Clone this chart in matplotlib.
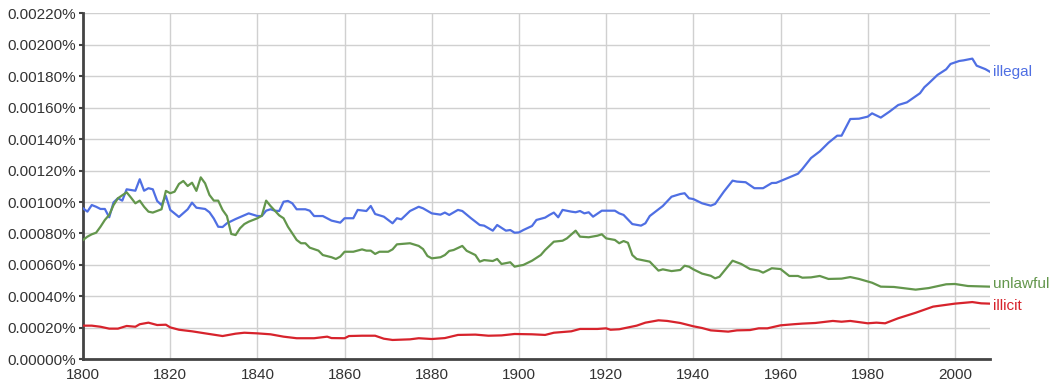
import matplotlib
matplotlib.use("Agg")
import matplotlib.pyplot as plt
from matplotlib.ticker import FuncFormatter, MultipleLocator

plt.rcParams['font.family'] = ['Liberation Sans', 'DejaVu Sans']

# illegal (blue)
illegal_years = [1800, 1801, 1802, 1803, 1804, 1805, 1806, 1807, 1808, 1809,
                 1810, 1812, 1813, 1814, 1815, 1816, 1817, 1818, 1819, 1820,
                 1822, 1824, 1825, 1826, 1828, 1829, 1830, 1831, 1832, 1833,
                 1835, 1838, 1840, 1841, 1842, 1843, 1844, 1845, 1846, 1847,
                 1848, 1849, 1851, 1852, 1853, 1855, 1857, 1859, 1860, 1862,
                 1863, 1865, 1866, 1867, 1869, 1871, 1872, 1873, 1875, 1877,
                 1878, 1880, 1882, 1883, 1884, 1886, 1887, 1889, 1891, 1892,
                 1894, 1895, 1897, 1898, 1899, 1900, 1901, 1903, 1904, 1906,
                 1907, 1908, 1909, 1910, 1912, 1913, 1914, 1915, 1916, 1917,
                 1919, 1922, 1923, 1924, 1926, 1928, 1929, 1930, 1932, 1933,
                 1935, 1937, 1938, 1939, 1940, 1942, 1944, 1945, 1947, 1949,
                 1950, 1952, 1954, 1956, 1958, 1959, 1961, 1964, 1965, 1967,
                 1969, 1971, 1973, 1974, 1976, 1978, 1980, 1981, 1983, 1985,
                 1987, 1989, 1992, 1993, 1994, 1996, 1998, 1999, 2001, 2002,
                 2004, 2005, 2007, 2008]
illegal_vals = [0.000960, 0.000939, 0.000981, 0.000970, 0.000956, 0.000956, 0.000903, 0.000998, 0.001024, 0.001009,
                0.001081, 0.001072, 0.001145, 0.001072, 0.001088, 0.001081, 0.001007, 0.000981, 0.001039, 0.000950,
                0.000905, 0.000954, 0.000996, 0.000964, 0.000956, 0.000935, 0.000895, 0.000843, 0.000841, 0.000865,
                0.000892, 0.000928, 0.000911, 0.000911, 0.000945, 0.000954, 0.000945, 0.000943, 0.001002, 0.001007,
                0.000992, 0.000954, 0.000954, 0.000945, 0.000911, 0.000911, 0.000882, 0.000869, 0.000897, 0.000897,
                0.000950, 0.000943, 0.000975, 0.000924, 0.000907, 0.000865, 0.000897, 0.000890, 0.000943, 0.000970,
                0.000960, 0.000928, 0.000920, 0.000933, 0.000918, 0.000950, 0.000943, 0.000897, 0.000854, 0.000850,
                0.000818, 0.000854, 0.000818, 0.000822, 0.000805, 0.000807, 0.000822, 0.000848, 0.000886, 0.000901,
                0.000918, 0.000933, 0.000903, 0.000950, 0.000939, 0.000935, 0.000943, 0.000928, 0.000935, 0.000907,
                0.000945, 0.000945, 0.000928, 0.000918, 0.000860, 0.000850, 0.000865, 0.000911, 0.000954, 0.000975,
                0.001034, 0.001051, 0.001056, 0.001024, 0.001019, 0.000992, 0.000977, 0.000988, 0.001066, 0.001136,
                0.001130, 0.001126, 0.001088, 0.001088, 0.001121, 0.001122, 0.001145, 0.001180, 0.001210, 0.001280,
                0.001322, 0.001377, 0.001422, 0.001422, 0.001528, 0.001530, 0.001543, 0.001564, 0.001537, 0.001575,
                0.001617, 0.001634, 0.001692, 0.001730, 0.001755, 0.001808, 0.001844, 0.001878, 0.001897, 0.001901,
                0.001912, 0.001867, 0.001845, 0.001829]

# unlawful (green)
unlawful_years = [1800, 1801, 1802, 1803, 1804, 1805, 1806, 1807, 1808, 1810,
                  1811, 1812, 1813, 1814, 1815, 1816, 1818, 1819, 1820, 1821,
                  1822, 1823, 1824, 1825, 1826, 1827, 1828, 1829, 1830, 1831,
                  1832, 1833, 1834, 1835, 1836, 1837, 1838, 1840, 1841, 1842,
                  1843, 1845, 1846, 1847, 1849, 1850, 1851, 1852, 1854, 1855,
                  1857, 1858, 1859, 1860, 1862, 1864, 1865, 1866, 1867, 1868,
                  1870, 1871, 1872, 1875, 1877, 1878, 1879, 1880, 1882, 1883,
                  1884, 1885, 1887, 1888, 1890, 1891, 1892, 1894, 1895, 1896,
                  1898, 1899, 1900, 1901, 1903, 1905, 1906, 1908, 1910, 1911,
                  1913, 1914, 1916, 1918, 1919, 1920, 1922, 1923, 1924, 1925,
                  1926, 1927, 1929, 1930, 1932, 1933, 1935, 1937, 1938, 1939,
                  1940, 1942, 1944, 1945, 1946, 1949, 1951, 1953, 1955, 1956,
                  1958, 1960, 1962, 1964, 1965, 1967, 1969, 1971, 1974, 1976,
                  1978, 1981, 1983, 1986, 1988, 1991, 1994, 1998, 2000, 2003,
                  2006, 2008]
unlawful_vals = [0.000759, 0.000780, 0.000795, 0.000805, 0.000843, 0.000886, 0.000918, 0.000981, 0.001024, 0.001062,
                 0.001028, 0.000992, 0.001009, 0.000970, 0.000939, 0.000933, 0.000954, 0.001071, 0.001056, 0.001066,
                 0.001115, 0.001134, 0.001102, 0.001123, 0.001071, 0.001157, 0.001119, 0.001045, 0.001009, 0.001009,
                 0.000950, 0.000911, 0.000797, 0.000790, 0.000833, 0.000860, 0.000875, 0.000897, 0.000913, 0.001009,
                 0.000975, 0.000915, 0.000897, 0.000843, 0.000759, 0.000738, 0.000738, 0.000710, 0.000691, 0.000663,
                 0.000649, 0.000638, 0.000653, 0.000684, 0.000684, 0.000699, 0.000691, 0.000691, 0.000670, 0.000684,
                 0.000684, 0.000699, 0.000731, 0.000738, 0.000721, 0.000701, 0.000657, 0.000642, 0.000649, 0.000663,
                 0.000689, 0.000695, 0.000721, 0.000690, 0.000663, 0.000621, 0.000631, 0.000625, 0.000638, 0.000606,
                 0.000617, 0.000589, 0.000595, 0.000600, 0.000627, 0.000663, 0.000695, 0.000748, 0.000754, 0.000769,
                 0.000818, 0.000780, 0.000776, 0.000786, 0.000795, 0.000769, 0.000759, 0.000738, 0.000752, 0.000741,
                 0.000663, 0.000638, 0.000627, 0.000621, 0.000564, 0.000572, 0.000561, 0.000568, 0.000595, 0.000589,
                 0.000572, 0.000545, 0.000531, 0.000515, 0.000525, 0.000627, 0.000606, 0.000574, 0.000564, 0.000551,
                 0.000579, 0.000574, 0.000530, 0.000530, 0.000519, 0.000521, 0.000530, 0.000511, 0.000513, 0.000523,
                 0.000511, 0.000487, 0.000462, 0.000460, 0.000453, 0.000443, 0.000453, 0.000477, 0.000479, 0.000466,
                 0.000464, 0.000462]

# illicit (red)
illicit_years = [1800, 1802, 1804, 1806, 1808, 1810, 1812, 1813, 1815, 1817,
                 1819, 1820, 1822, 1825, 1828, 1832, 1835, 1837, 1840, 1843,
                 1846, 1849, 1853, 1856, 1857, 1860, 1861, 1864, 1867, 1869,
                 1871, 1875, 1877, 1880, 1883, 1886, 1890, 1893, 1896, 1899,
                 1903, 1906, 1908, 1912, 1914, 1918, 1920, 1921, 1923, 1927,
                 1929, 1932, 1934, 1937, 1940, 1942, 1944, 1948, 1950, 1953,
                 1955, 1957, 1960, 1963, 1965, 1968, 1972, 1974, 1976, 1980,
                 1982, 1984, 1987, 1991, 1995, 2000, 2004, 2006, 2008]
illicit_vals = [0.000214, 0.000214, 0.000207, 0.000195, 0.000195, 0.000212, 0.000207, 0.000223, 0.000233, 0.000218,
                0.000220, 0.000203, 0.000188, 0.000178, 0.000165, 0.000148, 0.000163, 0.000169, 0.000165, 0.000159,
                0.000144, 0.000134, 0.000134, 0.000144, 0.000135, 0.000134, 0.000148, 0.000150, 0.000150, 0.000131,
                0.000123, 0.000127, 0.000134, 0.000129, 0.000135, 0.000155, 0.000157, 0.000150, 0.000152, 0.000161,
                0.000159, 0.000155, 0.000169, 0.000178, 0.000193, 0.000193, 0.000197, 0.000188, 0.000191, 0.000214,
                0.000233, 0.000248, 0.000244, 0.000231, 0.000210, 0.000199, 0.000184, 0.000176, 0.000184, 0.000186,
                0.000197, 0.000197, 0.000216, 0.000223, 0.000227, 0.000231, 0.000244, 0.000239, 0.000244, 0.000229,
                0.000233, 0.000229, 0.000261, 0.000296, 0.000335, 0.000354, 0.000364, 0.000356, 0.000354]

series = [
    ("illegal", illegal_years, illegal_vals, "#4f6fe3", 0),
    ("unlawful", unlawful_years, unlawful_vals, "#63964c", 2),
    ("illicit", illicit_years, illicit_vals, "#d7232c", -2),
]

fig = plt.figure(figsize=(10.58, 3.92), dpi=100)
ax = fig.add_axes([0.0785, 0.0834, 0.857, 0.8826])

for name, yrs, vals, col, dy in series:
    ax.plot(yrs, vals, color=col, lw=1.6, solid_joinstyle='round', zorder=3)
    ax.annotate(name, xy=(yrs[-1], vals[-1]), xytext=(2, dy), textcoords='offset points',
                color=col, fontsize=11, va='center', ha='left', annotation_clip=False)

ax.set_xlim(1800, 2008)
ax.set_ylim(0, 0.0022)
ax.xaxis.set_major_locator(MultipleLocator(20))
ax.yaxis.set_major_locator(MultipleLocator(0.0002))
ax.yaxis.set_major_formatter(FuncFormatter(lambda v, p: f"{v:.5f}%"))

ax.grid(True, color='#d0d0d0', lw=1.0, zorder=0)
ax.set_axisbelow(True)
for s in ['top', 'right']:
    ax.spines[s].set_visible(False)
for s in ['left', 'bottom']:
    ax.spines[s].set_color('#444444')
    ax.spines[s].set_linewidth(2)
ax.tick_params(axis='y', length=3, width=1.5, color='#444444', labelsize=11, labelcolor='#333333', pad=2)
ax.tick_params(axis='x', length=0, labelsize=11, labelcolor='#333333', pad=6)

fig.savefig("out.png", dpi=100)
